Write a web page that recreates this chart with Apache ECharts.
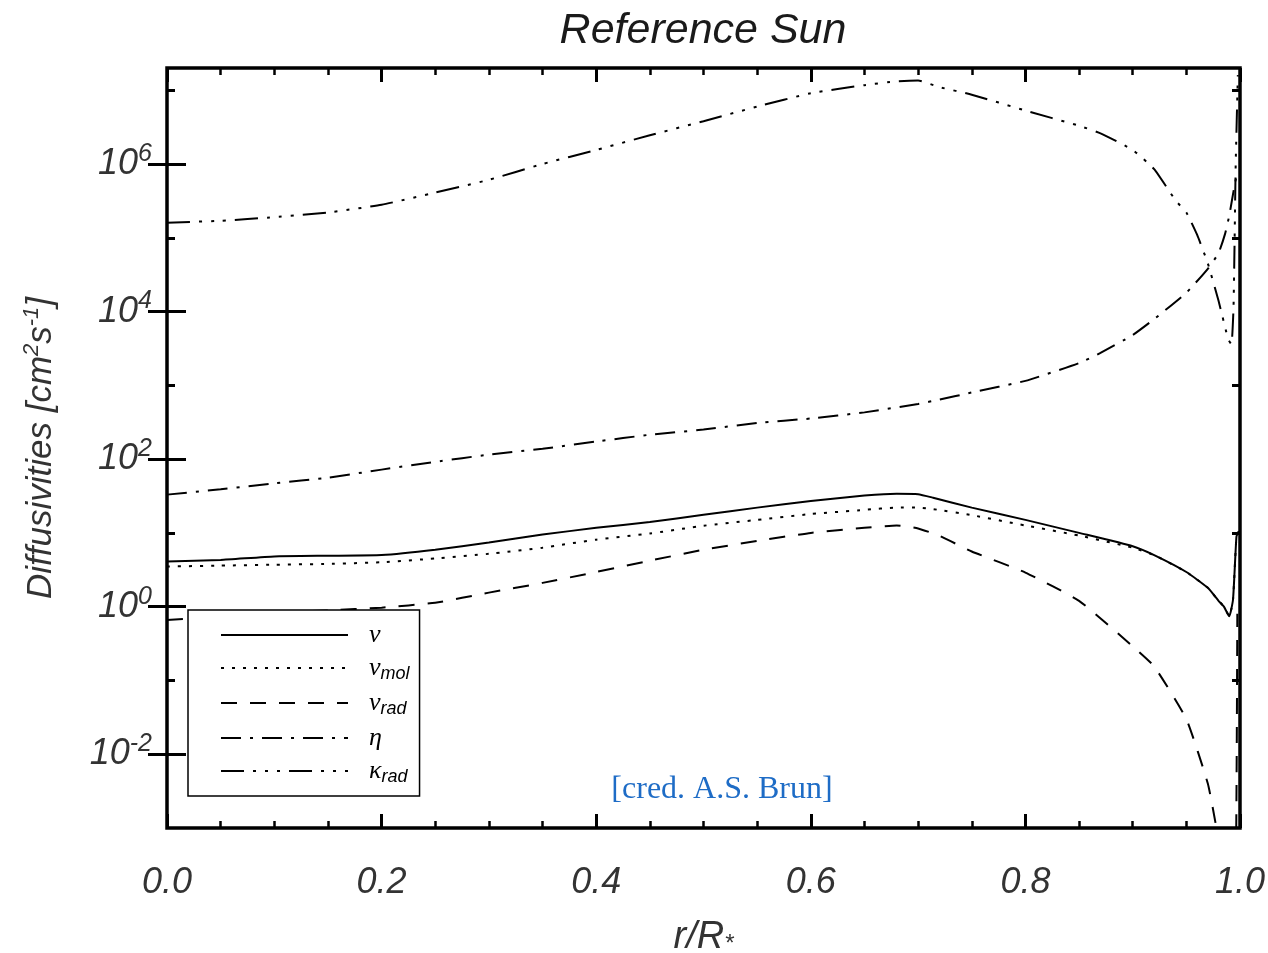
<!DOCTYPE html>
<html><head><meta charset="utf-8">
<script src="https://cdn.jsdelivr.net/npm/echarts@6/dist/echarts.min.js"></script>
<style>html,body{margin:0;padding:0;background:#fff}#c{width:1268px;height:953px}</style>
</head><body><div id="c"></div>
<script>
// ---- data ----
const rNu  = [0,0.05,0.1,0.15,0.2,0.25,0.3,0.35,0.4,0.45,0.5,0.55,0.6,0.65,0.68,0.7,0.714,0.75,0.8,0.85,0.9,0.92,0.95,0.97,0.98,0.985,0.99,0.9935,0.9967,0.999];
const nu   = [4.1,4.3,4.8,4.9,5.0,5.9,7.4,9.5,11.7,14,17.6,22,27,32,34,33.5,30,22,15,10,6.6,5.0,2.95,1.8,1.2,1.0,0.74,1.25,8.9,10.5];
const rMol = [0,0.05,0.1,0.15,0.2,0.25,0.3,0.35,0.4,0.45,0.5,0.55,0.6,0.65,0.68,0.7,0.714,0.75,0.8,0.85,0.9,0.92,0.95,0.97,0.98,0.985,0.99,0.9935,0.9967,0.999];
const nuMol= [3.5,3.6,3.7,3.8,4.0,4.5,5.2,6.3,8.1,9.8,12.5,15,18,20.5,22,22,21,17.4,12.6,9.2,6.3,5.0,2.95,1.8,1.2,1.0,0.74,1.25,8.9,10.5];
const rRad = [0,0.05,0.1,0.15,0.2,0.25,0.3,0.35,0.4,0.45,0.5,0.55,0.6,0.65,0.68,0.7,0.72,0.75,0.8,0.85,0.9,0.92,0.95,0.97,0.978,0.985,0.99,0.9955,0.9975];
const nuRad= [0.66,0.73,0.83,0.89,0.97,1.13,1.55,2.1,2.95,4.2,5.9,7.8,10,11.7,12.6,11.5,9.1,5.6,2.9,1.2,0.29,0.155,0.03,0.004,0.001,0.0002,0.0001,0.0001,0.8];
const rEta = [0,0.05,0.1,0.15,0.2,0.25,0.3,0.35,0.4,0.45,0.5,0.55,0.6,0.65,0.7,0.72,0.75,0.8,0.85,0.87,0.9,0.92,0.95,0.97,0.98,0.986,0.99,0.995,0.998];
const eta  = [33,39,47,56,72,92,115,138,173,214,251,310,355,430,560,640,800,1150,2000,2750,4800,7900,18000,38000,62000,112000,200000,520000,830000];
const rKap = [0,0.05,0.1,0.15,0.2,0.25,0.3,0.35,0.4,0.45,0.5,0.55,0.6,0.65,0.68,0.7,0.72,0.75,0.8,0.85,0.87,0.9,0.92,0.94,0.95,0.96,0.97,0.98,0.989,0.992,0.994,0.996,0.998];
const kap  = [1.6e5,1.7e5,1.9e5,2.2e5,2.8e5,4.1e5,6.1e5,1.0e6,1.55e6,2.45e6,3.8e6,6.0e6,9.1e6,1.17e7,1.32e7,1.35e7,1.1e7,8.7e6,5.3e6,3.3e6,2.6e6,1.55e6,8.5e5,3.2e5,2.2e5,1.1e5,4.5e4,1.4e4,4.2e3,3.6e3,1.2e4,1.0e6,1.6e7];

const seriesNames = ['nu','nu_mol','nu_rad','eta','kappa_rad'];
const legendText = {
  'nu': '{g|ν}',
  'nu_mol': '{g|ν}{s|mol}',
  'nu_rad': '{g|ν}{s|rad}',
  'eta': '{g|η}',
  'kappa_rad': '{g|κ}{s|rad}'
};
const xTickLabels = ['0.0','0.2','0.4','0.6','0.8','1.0'];
const yMajor = [1e-2, 1, 1e2, 1e4, 1e6];
const yMinor = [1e-1, 10, 1e3, 1e5, 1e7];
const titleText = 'Reference Sun';
const creditText = '[cred. A.S. Brun]';

const pairs = (xs, ys) => xs.map((x, i) => [x, ys[i]]);
const FONT = 'Liberation Sans';

const chart = echarts.init(document.getElementById('c'), null, {renderer: 'canvas'});

function xAx(pos, grid, showLabel) {
  return {
    type: 'value', gridIndex: grid, position: pos, min: 0, max: 1, interval: 0.2,
    axisLine: {show: false},
    axisTick: {show: true, inside: true, length: 14, lineStyle: {color: '#000', width: 3}},
    minorTick: {show: true, splitNumber: 4, length: 7, lineStyle: {color: '#000', width: 2.5}},
    splitLine: {show: false}, minorSplitLine: {show: false},
    axisLabel: {show: showLabel, margin: 37, fontFamily: FONT, fontStyle: 'italic', fontSize: 36, color: '#333',
      formatter: v => xTickLabels[Math.round(v / 0.2)]}
  };
}
function yAx(pos, grid, ticks, len, showLabel) {
  return {
    type: 'log', logBase: 10, gridIndex: grid, position: pos, min: 0.001, max: 2e7,
    axisLine: {show: false},
    axisTick: {show: true, inside: true, length: len, customValues: ticks, lineStyle: {color: '#000', width: 3}},
    splitLine: {show: false}, minorTick: {show: false},
    axisLabel: {show: showLabel, customValues: yMajor, margin: 15, fontFamily: FONT, fontStyle: 'italic', color: '#333',
      formatter: v => '{b|10}{s|' + Math.round(Math.log10(v)) + '}',
      rich: {
        b: {fontFamily: FONT, fontStyle: 'italic', fontSize: 36, color: '#333'},
        s: {fontFamily: FONT, fontStyle: 'italic', fontSize: 25, color: '#333', padding: [0, 0, 20, 0]}
      }}
  };
}

const styles = [
  {type: 'solid'},
  {type: [3, 8]},
  {type: [16, 13]},
  {type: [20, 9, 3, 9]},
  {type: [23, 9, 3, 9, 3, 9, 3, 9]}
];
const datasets = [pairs(rNu, nu), pairs(rMol, nuMol), pairs(rRad, nuRad), pairs(rEta, eta), pairs(rKap, kap)];

const option = {
  backgroundColor: '#fff',
  animation: false,
  title: {
    text: titleText, left: 703, textAlign: 'center', top: 10, padding: 0,
    textStyle: {fontFamily: FONT, fontStyle: 'italic', fontWeight: 'normal', fontSize: 43, color: '#1a1a1a'}
  },
  grid: [
    {left: 167, right: 28, top: 68, bottom: 125, show: true, borderColor: '#000', borderWidth: 3.5, backgroundColor: 'transparent', containLabel: false, outerBoundsMode: 'none'},
    {left: 167, right: 28, top: 68, bottom: 125, show: false, containLabel: false, outerBoundsMode: 'none'}
  ],
  xAxis: [
    Object.assign(xAx('bottom', 0, true), {
      name: 'r/R{s|*}', nameLocation: 'middle', nameGap: 90,
      nameTextStyle: {fontFamily: FONT, fontStyle: 'italic', fontSize: 38, color: '#333',
        rich: {s: {fontFamily: FONT, fontStyle: 'italic', fontSize: 24, color: '#333', padding: [14, 0, 0, 0]}}}
    }),
    xAx('top', 0, false),
    Object.assign(xAx('bottom', 1, false), {show: false})
  ],
  yAxis: [
    Object.assign(yAx('left', 0, yMajor, 19, true), {
      name: 'Diffusivities [cm{s|2}s{s|-1}]', nameLocation: 'middle', nameGap: 106,
      nameTextStyle: {fontFamily: FONT, fontStyle: 'italic', fontSize: 35, color: '#333',
        rich: {s: {fontFamily: FONT, fontStyle: 'italic', fontSize: 22, color: '#333', padding: [0, 0, 18, 0]}}}
    }),
    yAx('right', 0, yMajor, 19, false),
    yAx('left', 1, yMinor, 8, false),
    yAx('right', 1, yMinor, 8, false)
  ],
  legend: {
    show: true, orient: 'vertical', left: 188, top: 610,
    data: seriesNames,
    itemWidth: 127, itemHeight: 14, itemGap: 7,
    padding: [12, 10, 10, 32],
    borderColor: '#000', borderWidth: 1.5, backgroundColor: '#fff',
    itemStyle: {opacity: 0, color: 'transparent', borderWidth: 0},
    formatter: name => legendText[name],
    textStyle: {
      color: '#000',
      rich: {
        g: {fontFamily: 'Liberation Serif', fontStyle: 'italic', fontSize: 26, color: '#000', padding: [0, 0, 0, 16]},
        s: {fontFamily: FONT, fontStyle: 'italic', fontSize: 18, color: '#000', padding: [12, 0, 0, 0]}
      }
    }
  },
  graphic: [{
    type: 'text', x: 722, y: 790,
    style: {text: creditText, fill: '#1e6cc6', font: '32px "Liberation Serif"', textAlign: 'center', textVerticalAlign: 'middle'}
  }],
  series: seriesNames.map((n, i) => ({
    name: n, type: 'line', xAxisIndex: 0, yAxisIndex: 0,
    data: datasets[i], symbol: 'none', showSymbol: false, clip: true,
    smooth: 0.15,
    lineStyle: {color: '#000', width: 2, type: styles[i].type, cap: 'butt'},
    itemStyle: {color: '#000', opacity: 0},
    emphasis: {disabled: true}
  }))
};
chart.setOption(option);
</script>
</body></html>
